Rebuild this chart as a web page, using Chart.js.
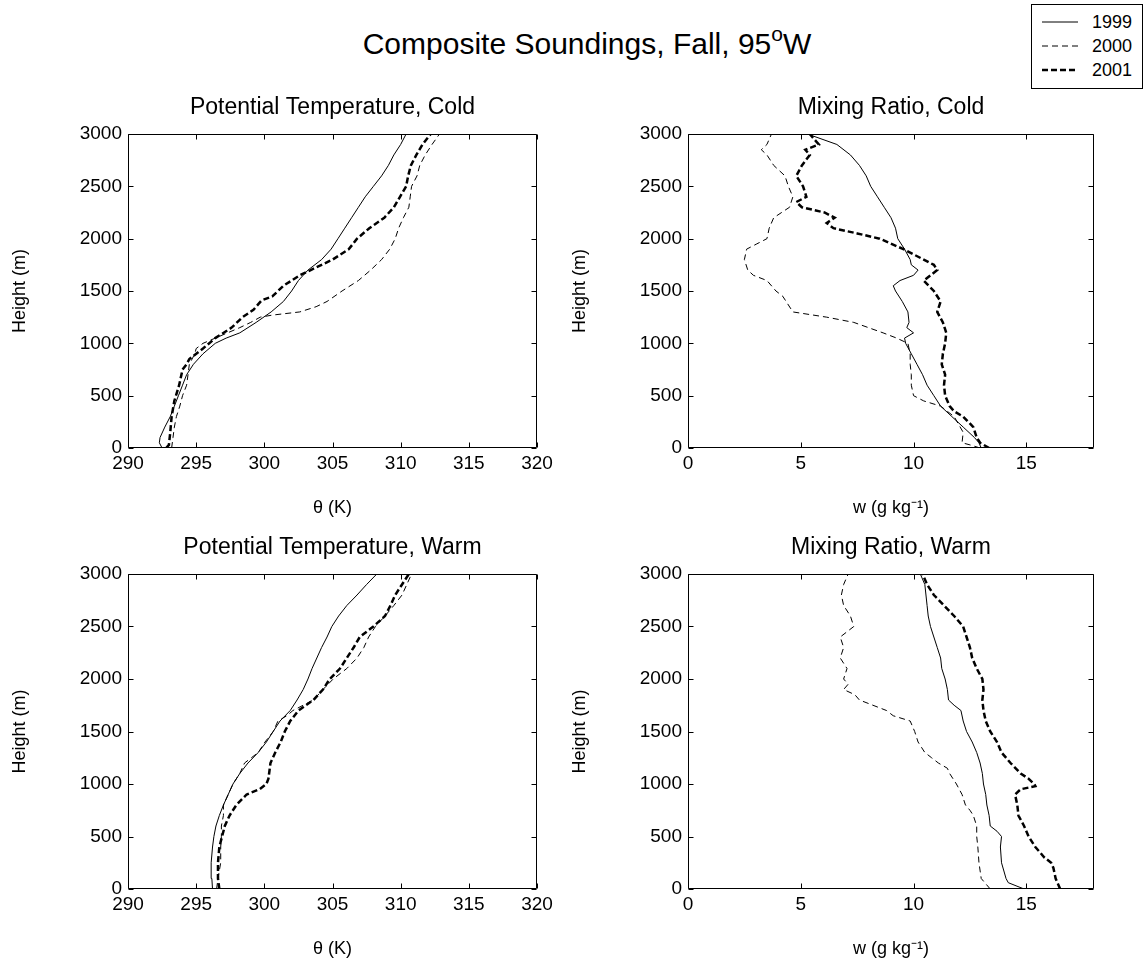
<!DOCTYPE html>
<html>
<head>
<meta charset="utf-8">
<script src="https://cdn.jsdelivr.net/npm/chart.js@4.4.0/dist/chart.umd.min.js"></script>
<style>
  body { margin: 0; background: #fff; font-family: 'Liberation Sans', Arial, Helvetica, sans-serif; color: #000; overflow: hidden; }
  #fig { position: relative; width: 1145px; height: 963px; overflow: hidden; }
  canvas { position: absolute; }
  #suptitle { position: absolute; left: 0; top: 27px; width: 1174px; text-align: center; font-size: 30px; white-space: nowrap; }
  #suptitle sup { font-size: 0.7em; vertical-align: 0.6em; line-height: 0; }
  #legend { position: absolute; left: 1031px; top: 4px; width: 110px; border: 1px solid #000; background: #fff; padding: 5px 0 6px 0; }
  #legend .row { display: flex; align-items: center; height: 24px; font-size: 18px; }
  #legend svg { margin: 0 14px 0 10px; }
</style>
</head>
<body>
<div id="fig">
  <div id="suptitle">Composite Soundings, Fall, 95<sup>o</sup>W</div>
  <div id="legend"></div>
  <canvas id="c-tc" width="560" height="440" style="left:0;top:80px"></canvas>
  <canvas id="c-mc" width="585" height="440" style="left:560px;top:80px"></canvas>
  <canvas id="c-tw" width="560" height="443" style="left:0;top:520px"></canvas>
  <canvas id="c-mw" width="585" height="443" style="left:560px;top:520px"></canvas>
</div>
<script>
// ---- data: [height (m), value] ----
const seriesNames = ['1999', '2000', '2001'];
const heightTicks = [0, 500, 1000, 1500, 2000, 2500, 3000];
const thetaTicks = [290, 295, 300, 305, 310, 315, 320];
const mixTicks = [0, 5, 10, 15];

// Potential temperature, cold (K)
const thetaCold1999 = [[0,292.5],[50,292.3],[100,292.35],[200,292.7],[300,293.1],[400,293.4],[500,293.7],[600,294.0],[700,294.3],[800,294.8],[900,295.5],[1000,296.4],[1050,297.2],[1100,298.2],[1200,299.4],[1300,300.5],[1400,301.4],[1500,302.0],[1600,302.5],[1700,303.2],[1800,304.2],[1900,304.9],[2000,305.4],[2100,305.9],[2200,306.4],[2300,306.9],[2400,307.4],[2500,308.0],[2600,308.6],[2700,309.1],[2800,309.5],[2900,310.0],[3000,310.4]];
const thetaCold2000 = [[0,293.2],[100,293.3],[200,293.4],[300,293.55],[400,293.8],[500,294.0],[600,294.3],[700,294.4],[800,294.5],[900,294.9],[950,295.0],[1000,295.5],[1050,296.4],[1100,297.3],[1150,298.2],[1200,299.0],[1250,299.7],[1270,300.6],[1300,302.6],[1350,303.8],[1400,304.6],[1500,305.7],[1600,306.9],[1700,307.8],[1800,308.6],[1900,309.2],[2000,309.6],[2100,309.85],[2200,310.2],[2300,310.6],[2400,310.7],[2500,310.8],[2600,311.2],[2700,311.4],[2800,311.8],[2900,312.3],[3000,312.85]];
const thetaCold2001 = [[0,292.8],[30,293.0],[150,293.1],[300,293.2],[450,293.4],[600,293.75],[750,294.0],[800,294.3],[850,294.5],[950,295.5],[1050,296.4],[1150,297.6],[1250,298.4],[1320,299.2],[1410,299.8],[1450,300.6],[1550,301.4],[1650,302.6],[1700,303.4],[1800,305.0],[1900,306.2],[2000,306.8],[2100,307.7],[2200,308.8],[2300,309.5],[2400,309.95],[2500,310.4],[2600,310.55],[2700,310.75],[2800,311.15],[2900,311.6],[3000,312.2]];

// Mixing ratio, cold (g/kg)
const mixCold1999 = [[0,13.0],[50,12.9],[100,12.7],[200,12.2],[300,11.7],[400,11.2],[500,10.9],[600,10.6],[700,10.4],[800,10.15],[900,9.9],[1000,9.65],[1050,9.6],[1100,10.0],[1150,9.7],[1200,9.8],[1300,9.75],[1400,9.5],[1500,9.2],[1550,9.1],[1600,9.4],[1650,10.0],[1700,10.2],[1750,9.9],[1800,9.85],[1900,9.6],[2000,9.3],[2100,9.2],[2200,9.0],[2300,8.7],[2400,8.4],[2500,8.1],[2600,7.9],[2700,7.6],[2800,7.2],[2900,6.6],[3000,5.3]];
const mixCold2000 = [[0,12.95],[30,12.5],[50,12.15],[150,12.2],[300,11.8],[400,11.2],[450,10.45],[500,10.0],[600,9.9],[700,9.9],[800,9.85],[900,9.85],[1000,9.75],[1050,9.25],[1100,8.65],[1200,7.35],[1250,6.15],[1300,4.65],[1400,4.35],[1450,4.2],[1500,3.9],[1600,3.5],[1650,2.9],[1700,2.65],[1800,2.5],[1900,2.6],[1950,3.05],[2000,3.5],[2100,3.6],[2200,3.8],[2300,4.5],[2400,4.65],[2500,4.45],[2600,4.3],[2700,3.8],[2800,3.5],[2850,3.25],[2900,3.5],[3000,3.7]];
const mixCold2001 = [[0,13.35],[50,12.95],[100,12.8],[200,12.65],[300,12.2],[350,11.8],[400,11.6],[500,11.4],[600,11.35],[700,11.4],[800,11.25],[900,11.3],[1000,11.4],[1100,11.45],[1200,11.3],[1300,11.05],[1400,11.2],[1500,10.9],[1600,10.45],[1650,10.75],[1700,11.05],[1750,10.9],[1800,10.45],[1850,10.0],[1900,9.55],[2000,8.5],[2050,7.5],[2100,6.45],[2150,6.15],[2200,6.5],[2250,6.05],[2300,5.05],[2350,4.8],[2400,5.25],[2500,5.1],[2600,4.8],[2700,5.05],[2800,5.4],[2850,5.2],[2900,5.8],[3000,5.4]];

// Potential temperature, warm (K)
const thetaWarm1999 = [[0,296.2],[100,296.15],[250,296.1],[400,296.2],[500,296.3],[600,296.45],[700,296.7],[800,297.0],[900,297.35],[1000,297.7],[1100,298.2],[1200,298.8],[1300,299.55],[1400,300.15],[1500,300.65],[1600,301.15],[1700,301.9],[1800,302.4],[1900,302.85],[2000,303.2],[2100,303.5],[2200,303.85],[2300,304.2],[2400,304.6],[2500,304.95],[2600,305.45],[2700,306.05],[2800,306.8],[2900,307.5],[3000,308.25]];
const thetaWarm2000 = [[0,296.5],[100,296.6],[250,296.8],[400,296.8],[500,296.85],[600,296.85],[700,297.0],[800,297.0],[900,297.35],[1000,297.7],[1100,298.2],[1200,298.55],[1250,299.05],[1300,299.55],[1400,300.05],[1500,300.65],[1600,301.0],[1650,301.65],[1700,302.1],[1800,303.6],[1900,304.3],[2000,305.05],[2100,306.05],[2200,306.8],[2300,307.3],[2400,307.65],[2500,308.15],[2600,308.85],[2700,309.5],[2800,310.1],[2900,310.45],[3000,310.8]];
const thetaWarm2001 = [[0,296.7],[100,296.6],[250,296.6],[400,296.7],[500,296.9],[600,297.1],[700,297.45],[800,297.95],[900,298.7],[950,299.65],[1000,300.15],[1050,300.3],[1100,300.35],[1200,300.45],[1300,300.8],[1400,301.2],[1500,301.5],[1600,301.9],[1700,302.5],[1800,303.6],[1900,304.3],[2000,304.8],[2100,305.55],[2200,306.05],[2300,306.55],[2400,307.0],[2500,308.0],[2600,308.85],[2700,309.25],[2800,309.6],[2900,310.1],[3000,310.6]];

// Mixing ratio, warm (g/kg)
const mixWarm1999 = [[0,14.9],[60,14.2],[100,14.1],[250,13.9],[400,13.85],[500,13.9],[550,13.7],[600,13.4],[700,13.35],[800,13.25],[900,13.2],[1000,13.1],[1100,13.05],[1200,12.95],[1300,12.8],[1400,12.6],[1500,12.35],[1600,12.2],[1700,12.1],[1750,11.8],[1800,11.55],[1900,11.5],[2000,11.4],[2100,11.25],[2200,11.2],[2300,11.05],[2400,10.9],[2500,10.75],[2600,10.65],[2700,10.6],[2800,10.55],[2900,10.5],[3000,10.3]];
const mixWarm2000 = [[0,13.4],[100,13.0],[250,12.9],[400,12.85],[500,12.8],[600,12.8],[700,12.65],[750,12.5],[800,12.3],[900,12.15],[1000,11.9],[1100,11.6],[1150,11.5],[1200,11.1],[1250,10.8],[1300,10.5],[1350,10.35],[1400,10.2],[1500,10.05],[1600,9.85],[1650,9.1],[1700,8.8],[1750,8.2],[1800,7.6],[1850,7.4],[1900,6.9],[1950,7.1],[2000,6.9],[2100,7.05],[2200,6.75],[2300,6.9],[2400,6.75],[2500,7.35],[2600,7.2],[2700,6.9],[2800,6.8],[2900,6.9],[3000,7.1]];
const mixWarm2001 = [[0,16.5],[100,16.3],[200,16.2],[250,16.1],[300,15.8],[400,15.4],[500,15.1],[600,14.9],[700,14.65],[800,14.6],[900,14.5],[950,14.75],[980,15.4],[1000,15.35],[1050,15.1],[1100,14.75],[1200,14.3],[1300,13.9],[1400,13.7],[1500,13.4],[1600,13.2],[1700,13.1],[1800,13.05],[1900,13.1],[2000,13.05],[2100,12.8],[2200,12.6],[2300,12.5],[2400,12.35],[2500,12.2],[2600,11.8],[2700,11.35],[2800,10.9],[2900,10.6],[3000,10.4]];

// ---- styling ----
const lineStyles = [
  { width: 1, dash: [] },
  { width: 1, dash: [6, 4] },
  { width: 2.5, dash: [6, 3] }
];
const FONT = "'Liberation Sans', Arial, Helvetica, sans-serif";
Chart.defaults.font.family = FONT;
Chart.defaults.color = '#000';

// MATLAB-style box with inward ticks on all four sides
const boxTicks = {
  id: 'boxTicks',
  afterDatasetsDraw(chart) {
    const { ctx, chartArea: a, scales: { x, y } } = chart;
    const L = Math.round(a.left) + 0.5, R = Math.round(a.right) - 0.5;
    const T = Math.round(a.top) + 0.5, B = Math.round(a.bottom) - 0.5;
    ctx.save();
    ctx.strokeStyle = '#000';
    ctx.lineWidth = 1;
    ctx.setLineDash([]);
    ctx.beginPath();
    x.ticks.forEach(t => {
      const px = Math.round(x.getPixelForValue(t.value)) + 0.5;
      ctx.moveTo(px, B); ctx.lineTo(px, B - 5);
      ctx.moveTo(px, T); ctx.lineTo(px, T + 5);
    });
    y.ticks.forEach(t => {
      const py = Math.round(y.getPixelForValue(t.value)) + 0.5;
      ctx.moveTo(L, py); ctx.lineTo(L + 5, py);
      ctx.moveTo(R, py); ctx.lineTo(R - 5, py);
    });
    ctx.rect(L, T, R - L, B - T);
    ctx.stroke();
    ctx.restore();
  }
};

function makePanel(id, cfg) {
  return new Chart(document.getElementById(id), {
    type: 'scatter',
    data: {
      datasets: cfg.series.map((s, i) => ({
        label: seriesNames[i],
        data: s.map(p => ({ x: p[1], y: p[0] })),
        showLine: true,
        pointRadius: 0,
        borderColor: '#000',
        borderWidth: lineStyles[i].width,
        borderDash: lineStyles[i].dash,
        tension: 0
      }))
    },
    options: {
      responsive: false,
      animation: false,
      events: [],
      layout: { padding: { left: 0, right: cfg.padRight, top: 0, bottom: 0 } },
      plugins: {
        legend: { display: false },
        tooltip: { enabled: false },
        title: {
          display: true,
          fullSize: false,
          text: cfg.title,
          color: '#000',
          font: { size: 23, weight: 'normal' },
          padding: { top: 14.2, bottom: 12.2 }
        }
      },
      scales: {
        x: {
          type: 'linear',
          min: cfg.xMin,
          max: cfg.xMax,
          grid: { display: false, drawTicks: false },
          border: { display: false },
          ticks: { font: { size: 19 }, padding: 4, maxRotation: 0, callback: v => String(v) },
          afterBuildTicks: s => { s.ticks = cfg.xTicks.map(v => ({ value: v })); },
          afterFit: s => { s.height = cfg.xAxisH; },
          title: {
            display: true,
            text: cfg.xTitle,
            font: { size: 18 },
            padding: { top: 0, bottom: cfg.xTitlePad }
          }
        },
        y: {
          type: 'linear',
          min: 0,
          max: 3000,
          grid: { display: false, drawTicks: false },
          border: { display: false },
          ticks: { font: { size: 19 }, padding: 6, callback: v => String(v) },
          afterBuildTicks: s => { s.ticks = heightTicks.map(v => ({ value: v })); },
          afterFit: s => { s.width = 128; },
          title: {
            display: true,
            text: 'Height (m)',
            font: { size: 18 },
            padding: { top: 9, bottom: 0 }
          }
        }
      }
    },
    plugins: [boxTicks]
  });
}

makePanel('c-tc', {
  title: 'Potential Temperature, Cold', xTitle: 'θ (K)',
  series: [thetaCold1999, thetaCold2000, thetaCold2001],
  xMin: 290, xMax: 320, xTicks: thetaTicks, padRight: 23, xAxisH: 72, xTitlePad: 1
});
makePanel('c-mc', {
  title: 'Mixing Ratio, Cold', xTitle: 'w (g kg⁻¹)',
  series: [mixCold1999, mixCold2000, mixCold2001],
  xMin: 0, xMax: 18, xTicks: mixTicks, padRight: 51, xAxisH: 72, xTitlePad: 1
});
makePanel('c-tw', {
  title: 'Potential Temperature, Warm', xTitle: 'θ (K)',
  series: [thetaWarm1999, thetaWarm2000, thetaWarm2001],
  xMin: 290, xMax: 320, xTicks: thetaTicks, padRight: 23, xAxisH: 74, xTitlePad: 3
});
makePanel('c-mw', {
  title: 'Mixing Ratio, Warm', xTitle: 'w (g kg⁻¹)',
  series: [mixWarm1999, mixWarm2000, mixWarm2001],
  xMin: 0, xMax: 18, xTicks: mixTicks, padRight: 51, xAxisH: 74, xTitlePad: 3
});

// figure legend
const legend = document.getElementById('legend');
seriesNames.forEach((name, i) => {
  const st = lineStyles[i];
  const row = document.createElement('div');
  row.className = 'row';
  row.innerHTML = '<svg width="36" height="10"><line x1="0" y1="5" x2="36" y2="5" stroke="#000" stroke-width="' +
    st.width + '" stroke-dasharray="' + (st.dash.length ? st.dash.join(' ') : 'none') + '"/></svg><span>' + name + '</span>';
  legend.appendChild(row);
});
</script>
</body>
</html>
